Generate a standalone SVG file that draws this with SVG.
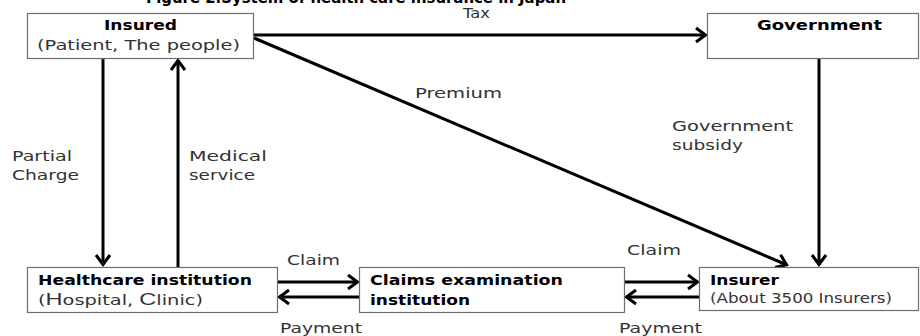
<svg xmlns="http://www.w3.org/2000/svg" width="920" height="336" viewBox="0 0 920 336">
<defs>
<marker id="ah" markerUnits="userSpaceOnUse" markerWidth="20" markerHeight="20" viewBox="-12 -10 14 20" refX="0" refY="0" orient="auto">
<path d="M-10,-7 L-0.5,0 L-10,7" fill="none" stroke="#000" stroke-width="3" stroke-linejoin="miter"/>
</marker>
<style>
.box{fill:#fff;stroke:#6e6e6e;stroke-width:1.2}
.ln{fill:none;stroke:#000;stroke-width:3}
.arr{marker-end:url(#ah)}
text{font-family:"DejaVu Sans","Open Sans",sans-serif;font-size:14px;fill:#333}
.b{font-weight:bold;fill:#000}
.t{font-weight:bold;fill:#000;font-size:16px}
</style>
</defs>
<text class="t" x="146" y="3" textLength="420" lengthAdjust="spacingAndGlyphs">Figure 2.System of health care insurance in Japan</text>
<g id="connectors">
<line class="ln arr" x1="254" y1="35" x2="706" y2="35"/>
<line class="ln arr" x1="254" y1="38" x2="787" y2="265"/>
<line class="ln arr" x1="819" y1="58" x2="819" y2="265"/>
<line class="ln arr" x1="103" y1="58" x2="103" y2="265"/>
<line class="ln arr" x1="178" y1="267" x2="178" y2="60"/>
<line class="ln arr" x1="277" y1="282" x2="358" y2="282"/>
<line class="ln arr" x1="360" y1="297" x2="279" y2="297"/>
<line class="ln arr" x1="624" y1="282" x2="698" y2="282"/>
<line class="ln arr" x1="699" y1="297" x2="626" y2="297"/>
<text x="463" y="18" textLength="27" lengthAdjust="spacingAndGlyphs">Tax</text>
<text x="415" y="98" textLength="87" lengthAdjust="spacingAndGlyphs">Premium</text>
<text x="672" y="131" textLength="121" lengthAdjust="spacingAndGlyphs">Government</text>
<text x="672" y="150" textLength="71" lengthAdjust="spacingAndGlyphs">subsidy</text>
<text x="12" y="161" textLength="60" lengthAdjust="spacingAndGlyphs">Partial</text>
<text x="12" y="180" textLength="67" lengthAdjust="spacingAndGlyphs">Charge</text>
<text x="189" y="161" textLength="78" lengthAdjust="spacingAndGlyphs">Medical</text>
<text x="189" y="180" textLength="66" lengthAdjust="spacingAndGlyphs">service</text>
<text x="287" y="265" textLength="53" lengthAdjust="spacingAndGlyphs">Claim</text>
<text x="280" y="333" textLength="82" lengthAdjust="spacingAndGlyphs">Payment</text>
<text x="627" y="255" textLength="54" lengthAdjust="spacingAndGlyphs">Claim</text>
<text x="619" y="333" textLength="83" lengthAdjust="spacingAndGlyphs">Payment</text>
</g>
<g id="insured">
<rect class="box" x="27.5" y="13.5" width="226" height="45"/>
<text class="b" x="104" y="30" textLength="73" lengthAdjust="spacingAndGlyphs">Insured</text>
<text x="37" y="50" font-size="15" textLength="203" lengthAdjust="spacingAndGlyphs">(Patient, The people)</text>
</g>
<g id="government">
<rect class="box" x="707.5" y="13.5" width="211" height="45"/>
<text class="b" x="757" y="30" textLength="125" lengthAdjust="spacingAndGlyphs">Government</text>
</g>
<g id="healthcare">
<rect class="box" x="27.5" y="267.5" width="250" height="45"/>
<text class="b" x="38" y="285" textLength="214" lengthAdjust="spacingAndGlyphs">Healthcare institution</text>
<text x="38" y="305" font-size="15" textLength="165" lengthAdjust="spacingAndGlyphs">(<tspan font-family="Liberation Sans" font-size="17">H</tspan>ospital, <tspan font-family="Liberation Sans" font-size="17">C</tspan>linic)</text>
</g>
<g id="claims">
<rect class="box" x="359.5" y="267.5" width="265" height="45"/>
<text class="b" x="370" y="285" textLength="193" lengthAdjust="spacingAndGlyphs">Claims examination</text>
<text class="b" x="370" y="305" textLength="100" lengthAdjust="spacingAndGlyphs">institution</text>
</g>
<g id="insurer">
<rect class="box" x="699.5" y="267.5" width="219" height="43"/>
<text class="b" x="710" y="285" textLength="69" lengthAdjust="spacingAndGlyphs">Insurer</text>
<text x="710" y="303" font-size="13" textLength="182" lengthAdjust="spacingAndGlyphs">(About 3500 Insurers)</text>
</g>
</svg>
